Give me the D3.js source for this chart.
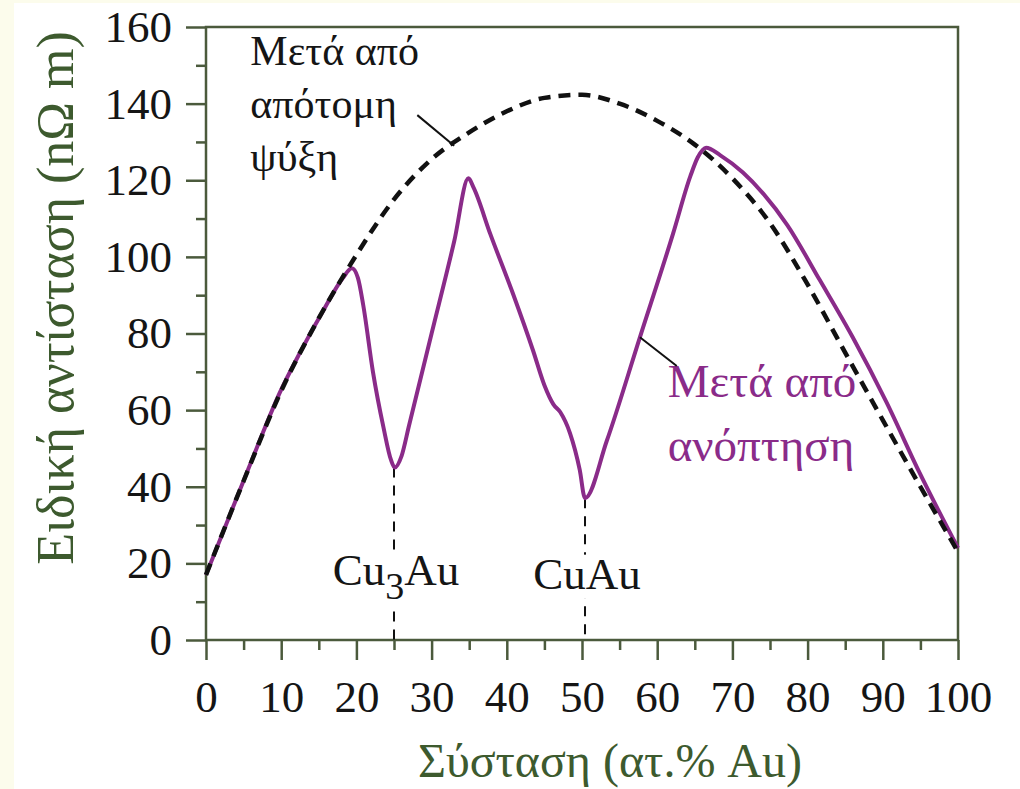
<!DOCTYPE html>
<html>
<head>
<meta charset="utf-8">
<script src="https://cdn.jsdelivr.net/npm/d3@7"></script>
<style>
  html, body { margin: 0; padding: 0; background: #fcfcec; }
  svg { display: block; }
  text { font-family: "Liberation Serif", "Times New Roman", serif; }
</style>
</head>
<body>
<svg id="chart" width="1020" height="789"></svg>
<script>
// ---- data (composition in at.% Au, resistivity in nΩ m) ----
const quenchedX = [0, 5, 10, 15, 20, 25, 30, 35, 40, 45, 50, 55, 60, 65, 70, 75, 80, 85, 90, 95, 100];
const quenchedR = [17, 41.5, 65, 84, 100.5, 115, 125.5, 132.5, 138, 141.5, 142.3, 140, 135.5, 129.3, 120.5, 108.8, 92.8, 75, 57.4, 40, 23];

const annealedX = [0, 3.6, 6.8, 9.8, 12.5, 15.6, 18.2, 19.4, 20.2, 20.9, 22.2, 23.6, 24.6, 25.1, 26, 27, 30, 33, 34.9, 35.6, 37.8, 40.8, 43.5, 45, 46.2, 47.1, 48.4, 49.7, 50.4, 53.3, 57.7, 62.1, 64.4, 65.4, 66.5, 68.4, 71.4, 74.1, 77.3, 81.6, 86, 90.5, 94.9, 100];
const annealedR = [17, 34.7, 50.4, 64.5, 75, 86, 94.5, 97, 94.5, 87.5, 70, 55.5, 47, 45, 48, 56, 80, 104, 120.5, 118, 106, 90.5, 75.5, 66.5, 61.5, 59.5, 54, 44.4, 37, 52, 79, 106, 121, 126, 128.5, 126.5, 122, 116.5, 108.3, 94, 79, 62, 43.6, 24];

const xMajorTicks = [0, 10, 20, 30, 40, 50, 60, 70, 80, 90, 100];
const xMinorTicks = [5, 15, 25, 35, 45, 55, 65, 75, 85, 95];
const yMajorTicks = [0, 20, 40, 60, 80, 100, 120, 140, 160];
const yMinorTicks = [10, 30, 50, 70, 90, 110, 130, 150];

const phases = [{name: "Cu", sub: "3", tail: "Au", x: 25, r: 45}, {name: "CuAu", sub: "", tail: "", x: 50.4, r: 37}];
const quenchLabel = ["Μετά από", "απότομη", "ψύξη"];
const annealLabel = ["Μετά από", "ανόπτηση"];
const xTitle = "Σύσταση (ατ.% Au)";
const yTitle = "Ειδική αντίσταση (nΩ m)";

// ---- layout ----
const margin = {left: 206, top: 27, right: 62, bottom: 149};
const W = 1020, H = 789;
const iw = W - margin.left - margin.right;
const ih = H - margin.top - margin.bottom;
const axisColor = "#4b5a3c";
const titleColor = "#3d5a2e";
const purple = "#8a2b89";

const svg = d3.select("#chart");
svg.append("rect").attr("x", 14).attr("y", 3).attr("width", W - 14).attr("height", H - 3).attr("fill", "#ffffff");

const g = svg.append("g").attr("transform", `translate(${margin.left},${margin.top})`);
const x = d3.scaleLinear().domain([0, 100]).range([0, iw]);
const y = d3.scaleLinear().domain([0, 160]).range([ih, 0]);

// minor ticks
g.append("g").attr("transform", `translate(0,${ih})`)
  .call(d3.axisBottom(x).tickValues(xMinorTicks).tickSize(10).tickSizeOuter(0).tickFormat(""))
  .call(a => a.select(".domain").remove())
  .call(a => a.selectAll("line").attr("stroke", axisColor).attr("stroke-width", 2.5));
g.append("g")
  .call(d3.axisLeft(y).tickValues(yMinorTicks).tickSize(10).tickSizeOuter(0).tickFormat(""))
  .call(a => a.select(".domain").remove())
  .call(a => a.selectAll("line").attr("stroke", axisColor).attr("stroke-width", 2.5));

// major ticks
const xa = g.append("g").attr("transform", `translate(0,${ih})`)
  .call(d3.axisBottom(x).tickValues(xMajorTicks).tickSize(20).tickSizeOuter(0).tickPadding(20));
const ya = g.append("g")
  .call(d3.axisLeft(y).tickValues(yMajorTicks).tickSize(20).tickSizeOuter(0).tickPadding(14));
[xa, ya].forEach(a => {
  a.select(".domain").remove();
  a.selectAll("line").attr("stroke", axisColor).attr("stroke-width", 2.5);
  a.selectAll("text").attr("font-family", "Liberation Serif, serif").attr("font-size", 45).attr("fill", "#151515");
});

// frame
g.append("rect").attr("x", 0).attr("y", 0).attr("width", iw).attr("height", ih)
  .attr("fill", "none").attr("stroke", axisColor).attr("stroke-width", 2.5);

// phase drop lines
phases.forEach(p => {
  g.append("line").attr("x1", x(p.x)).attr("x2", x(p.x)).attr("y1", y(p.r)).attr("y2", y(0))
    .attr("stroke", "#111").attr("stroke-width", 2).attr("stroke-dasharray", "10,8");
});

// curves
const pts = (xs, rs) => xs.map((v, i) => [v, rs[i]]);
const line = d3.line().x(d => x(d[0])).y(d => y(d[1])).curve(d3.curveMonotoneX);
g.append("path").datum(pts(annealedX, annealedR)).attr("d", line)
  .attr("fill", "none").attr("stroke", purple).attr("stroke-width", 4).attr("stroke-linejoin", "round");
g.append("path").datum(pts(quenchedX, quenchedR)).attr("d", line)
  .attr("fill", "none").attr("stroke", "#111").attr("stroke-width", 4.5).attr("stroke-dasharray", "12,8");

// phase labels with white background
const phaseBase = [14.4, 13.4];
phases.forEach((p, i) => {
  const lg = g.append("g");
  const bg = lg.append("rect").attr("fill", "#fff");
  const t = lg.append("text").attr("x", x(p.x) + 2).attr("y", y(phaseBase[i]))
    .attr("text-anchor", "middle").attr("font-size", 45).attr("fill", "#151515");
  t.append("tspan").text(p.name);
  if (p.sub) {
    t.append("tspan").attr("font-size", 38).attr("dy", 14).text(p.sub);
    t.append("tspan").attr("dy", -14).text(p.tail);
  }
  const bb = t.node().getBBox();
  bg.attr("x", bb.x - 2).attr("y", bb.y + 6).attr("width", bb.width + 4).attr("height", bb.height - 6);
});

// quench annotation
const qt = g.append("text").attr("x", x(5.9)).attr("y", y(150)).attr("font-size", 42).attr("fill", "#151515");
quenchLabel.forEach((s, i) => qt.append("tspan").attr("x", x(5.9)).attr("dy", i === 0 ? 0 : 53).text(s));
g.append("line").attr("x1", x(28.1)).attr("y1", y(137)).attr("x2", x(33.0)).attr("y2", y(129))
  .attr("stroke", "#111").attr("stroke-width", 2);

// anneal annotation
const at = g.append("text").attr("x", x(61.4)).attr("y", y(63.5)).attr("font-size", 47).attr("fill", purple);
annealLabel.forEach((s, i) => at.append("tspan").attr("x", x(61.4)).attr("dy", i === 0 ? 0 : 64).text(s));
g.append("line").attr("x1", x(57.7)).attr("y1", y(79)).attr("x2", x(62.6)).attr("y2", y(71.5))
  .attr("stroke", "#111").attr("stroke-width", 2);

// axis titles
svg.append("text").attr("x", 610).attr("y", 777).attr("text-anchor", "middle")
  .attr("font-size", 48).attr("fill", titleColor).text(xTitle);
svg.append("text").attr("transform", "translate(73,298) rotate(-90)").attr("text-anchor", "middle")
  .attr("font-size", 52).attr("fill", titleColor).text(yTitle);
</script>
</body>
</html>
